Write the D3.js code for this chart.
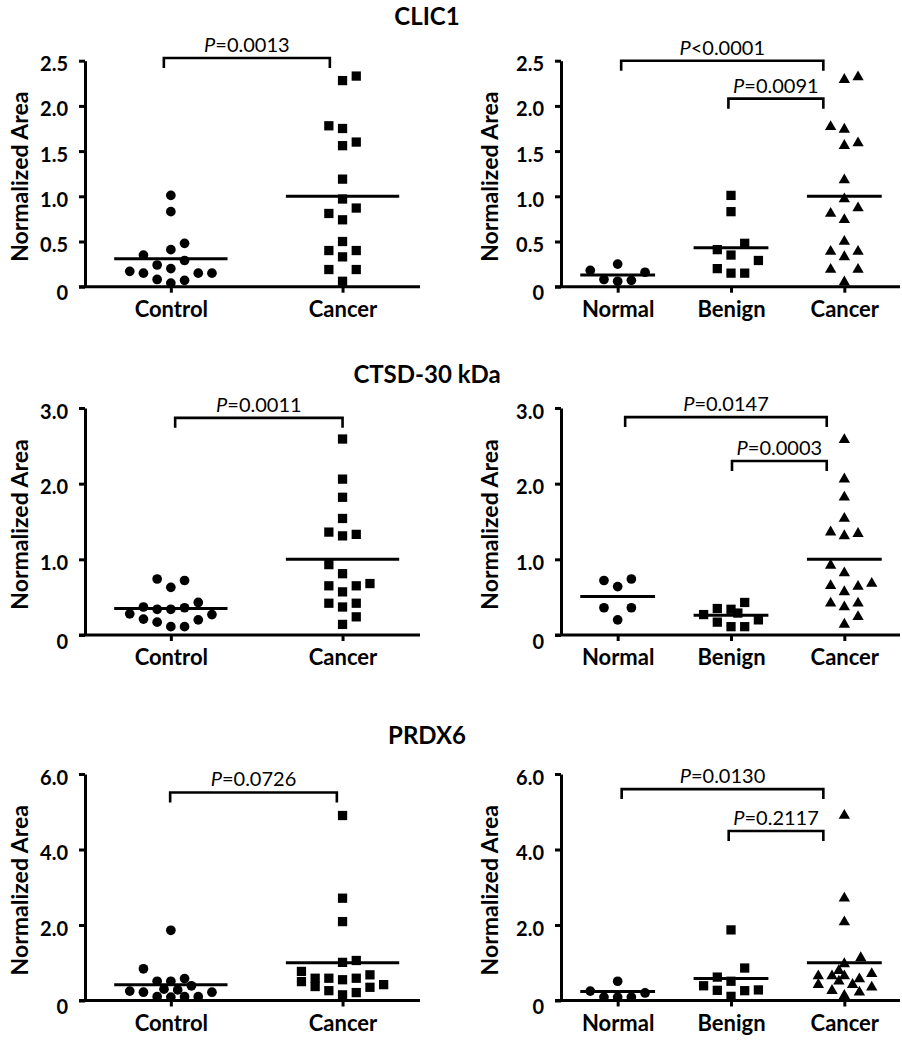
<!DOCTYPE html>
<html>
<head>
<meta charset="utf-8">
<script src="https://cdn.jsdelivr.net/npm/d3@7"></script>
<style>
  html, body { margin: 0; padding: 0; background: #fff; }
  svg { display: block; }
</style>
</head>
<body>
<svg id="chart" width="902" height="1050"></svg>
<script>
// ---------------- DATA ----------------
const titles = ["CLIC1", "CTSD-30 kDa", "PRDX6"];
const twoGroups = ["Control", "Cancer"];
const threeGroups = ["Normal", "Benign", "Cancer"];
const yAxisTitle = "Normalized Area";

const clic1Ticks = [0, 0.5, 1.0, 1.5, 2.0, 2.5];
const clic1TickLabels = ["0", "0.5", "1.0", "1.5", "2.0", "2.5"];
const ctsdTicks = [0, 1, 2, 3];
const ctsdTickLabels = ["0", "1.0", "2.0", "3.0"];
const prdx6Ticks = [0, 2, 4, 6];
const prdx6TickLabels = ["0", "2.0", "4.0", "6.0"];

// CLIC1 - two groups
const clic1ControlVals  = [1.01, 0.83, 0.48, 0.41, 0.35, 0.29, 0.24, 0.20, 0.17, 0.15, 0.15, 0.15, 0.08, 0.04, 0.07];
const clic1ControlSlots = [0, 0, 1, 0, -2, 1, -1, 0, -3, -2, 2, 3, -1, 0, 1];
const clic1CancerVals   = [2.28, 2.33, 1.78, 1.75, 1.56, 1.60, 1.19, 0.97, 0.87, 0.81, 0.74, 0.50, 0.40, 0.40, 0.33, 0.19, 0.19, 0.06];
const clic1CancerSlots  = [0, 1, -1, 0, 0, 1, 0, 0, 1, -1, 0, 0, -1, 1, 0, -1, 1, 0];
const clic1TwoMeans = [0.31, 1.00];
// CLIC1 - three groups
const clic1NormalVals  = [0.18, 0.25, 0.16, 0.08, 0.06, 0.07];
const clic1NormalSlots = [-2, 0, 2, -1, 0, 1];
const clic1BenignVals  = [1.01, 0.83, 0.48, 0.41, 0.35, 0.29, 0.20, 0.15, 0.15];
const clic1BenignSlots = [0, 0, 1, -1, 0, 2, -1, 0, 1];
const clic1Cancer3Vals  = [2.29, 2.32, 1.77, 1.74, 1.56, 1.59, 1.18, 0.97, 0.87, 0.81, 0.74, 0.50, 0.39, 0.39, 0.33, 0.19, 0.19, 0.05];
const clic1Cancer3Slots = [0, 1, -1, 0, 0, 1, 0, 0, 1, -1, 0, 0, -1, 1, 0, -1, 1, 0];
const clic1ThreeMeans = [0.13, 0.43, 1.00];

// CTSD-30 kDa - two groups
const ctsdControlVals  = [0.74, 0.72, 0.63, 0.43, 0.37, 0.34, 0.34, 0.36, 0.28, 0.27, 0.21, 0.20, 0.17, 0.11, 0.11];
const ctsdControlSlots = [-1, 1, 0, 2, -2, -1, 0, 1, -3, 3, -2, 2, -1, 0, 1];
const ctsdCancerVals   = [2.59, 2.06, 1.82, 1.54, 1.36, 1.31, 1.33, 0.93, 0.81, 0.65, 0.57, 0.65, 0.68, 0.42, 0.37, 0.42, 0.24, 0.14];
const ctsdCancerSlots  = [0, 0, 0, 0, -1, 0, 1, -1, 0, -1, 0, 1, 2, -1, 0, 1, 1, 0];
const ctsdTwoMeans = [0.35, 1.00];
// CTSD-30 kDa - three groups
const ctsdNormalVals  = [0.72, 0.74, 0.64, 0.36, 0.36, 0.20];
const ctsdNormalSlots = [-1, 1, 0, -1, 1, 0];
const ctsdBenignVals  = [0.43, 0.35, 0.34, 0.27, 0.29, 0.20, 0.17, 0.11, 0.11];
const ctsdBenignSlots = [1, -1, 0, -2, 0.5, 2, -1, 0, 1];
const ctsdCancer3Vals  = [2.58, 2.06, 1.82, 1.54, 1.36, 1.31, 1.34, 0.92, 0.82, 0.65, 0.57, 0.64, 0.68, 0.42, 0.37, 0.42, 0.24, 0.14];
const ctsdCancer3Slots = [0, 0, 0, 0, -1, 0, 1, -1, 0, -1, 0, 1, 2, -1, 0, 1, 1, 0];
const ctsdThreeMeans = [0.51, 0.26, 1.00];

// PRDX6 - two groups
const prdx6ControlVals  = [1.86, 0.84, 0.51, 0.51, 0.58, 0.30, 0.28, 0.39, 0.25, 0.22, 0.22, 0.10, 0.09, 0.10, 0.10];
const prdx6ControlSlots = [0, -2, -1, 0, 1, -0.5, 0.5, 1.5, -3, -2, 3, -1, 0, 1, 2];
const prdx6CancerVals   = [4.90, 2.71, 2.09, 1.06, 1.01, 0.77, 0.50, 0.59, 0.37, 0.59, 0.26, 0.55, 0.15, 0.59, 0.21, 0.68, 0.35, 0.42];
const prdx6CancerSlots  = [0, 0, 0, 1, 0, -3, -3, -2, -2, -1, -1, 0, 0, 1, 1, 2, 2, 3];
const prdx6TwoMeans = [0.42, 1.00];
// PRDX6 - three groups
const prdx6NormalVals  = [0.51, 0.25, 0.20, 0.09, 0.09, 0.09];
const prdx6NormalSlots = [0, -2, 2, -1, 0, 1];
const prdx6BenignVals  = [1.87, 0.86, 0.62, 0.51, 0.39, 0.27, 0.26, 0.28, 0.11];
const prdx6BenignSlots = [0, 1, -1, 0, -2, -1, 1, 2, 0];
const prdx6Cancer3Vals  = [4.90, 2.71, 2.08, 1.13, 0.97, 0.79, 0.65, 0.65, 0.65, 0.57, 0.71, 0.51, 0.42, 0.42, 0.35, 0.26, 0.22, 0.13];
const prdx6Cancer3Slots = [0, 0, 0, 1.2, 0, -0.4, -1.9, -0.9, 0, 1.1, 2, -0.4, -1.9, 0.6, 2, -0.9, 1.1, 0];
const prdx6ThreeMeans = [0.24, 0.58, 1.00];

// significance annotations: [fromGroup, toGroup, level (data units), operator, value]
const clic1TwoP   = [["Control", "Cancer", 2.53, "=", "0.0013"]];
const clic1ThreeP = [["Normal", "Cancer", 2.50, "<", "0.0001"], ["Benign", "Cancer", 2.08, "=", "0.0091"]];
const ctsdTwoP    = [["Control", "Cancer", 2.87, "=", "0.0011"]];
const ctsdThreeP  = [["Normal", "Cancer", 2.88, "=", "0.0147"], ["Benign", "Cancer", 2.30, "=", "0.0003"]];
const prdx6TwoP   = [["Control", "Cancer", 5.51, "=", "0.0726"]];
const prdx6ThreeP = [["Normal", "Cancer", 5.60, "=", "0.0130"], ["Benign", "Cancer", 4.49, "=", "0.2117"]];

// ---------------- LAYOUT ----------------
const FONT = "Lato, 'Open Sans', 'DejaVu Sans', sans-serif";
const rowsLayout = [
  {zero: 286.7, top: 60.7, titleY: 25},
  {zero: 635,   top: 408,  titleY: 383},
  {zero: 1000.5, top: 774, titleY: 744}
];
const colsLayout = [
  {axisX: 85,  rangeEnd: 428.4, lineEnd: 420, titleX: 28,  brInset: [[-7, -12.7], [4.3, 0], [-0.7, -5.7]]},
  {axisX: 561, rangeEnd: 901,   lineEnd: 900, titleX: 498, brInset: [[3.5, -21], [7.5, -17.6], [4, -21]]}
];
const innerInset = [[-2.6, -21], [1, -17.6], [-2.3, -21]];
const SLOT = 13.7;

const panels = [
  {row: 0, col: 0, cats: twoGroups, max: 2.5, ticks: clic1Ticks, tickLabels: clic1TickLabels,
   groups: [[clic1ControlVals, clic1ControlSlots, "circle"], [clic1CancerVals, clic1CancerSlots, "square"]],
   means: clic1TwoMeans, pvals: clic1TwoP},
  {row: 0, col: 1, cats: threeGroups, max: 2.5, ticks: clic1Ticks, tickLabels: clic1TickLabels,
   groups: [[clic1NormalVals, clic1NormalSlots, "circle"], [clic1BenignVals, clic1BenignSlots, "square"], [clic1Cancer3Vals, clic1Cancer3Slots, "triangle"]],
   means: clic1ThreeMeans, pvals: clic1ThreeP},
  {row: 1, col: 0, cats: twoGroups, max: 3, ticks: ctsdTicks, tickLabels: ctsdTickLabels,
   groups: [[ctsdControlVals, ctsdControlSlots, "circle"], [ctsdCancerVals, ctsdCancerSlots, "square"]],
   means: ctsdTwoMeans, pvals: ctsdTwoP},
  {row: 1, col: 1, cats: threeGroups, max: 3, ticks: ctsdTicks, tickLabels: ctsdTickLabels,
   groups: [[ctsdNormalVals, ctsdNormalSlots, "circle"], [ctsdBenignVals, ctsdBenignSlots, "square"], [ctsdCancer3Vals, ctsdCancer3Slots, "triangle"]],
   means: ctsdThreeMeans, pvals: ctsdThreeP},
  {row: 2, col: 0, cats: twoGroups, max: 6, ticks: prdx6Ticks, tickLabels: prdx6TickLabels,
   groups: [[prdx6ControlVals, prdx6ControlSlots, "circle"], [prdx6CancerVals, prdx6CancerSlots, "square"]],
   means: prdx6TwoMeans, pvals: prdx6TwoP},
  {row: 2, col: 1, cats: threeGroups, max: 6, ticks: prdx6Ticks, tickLabels: prdx6TickLabels,
   groups: [[prdx6NormalVals, prdx6NormalSlots, "circle"], [prdx6BenignVals, prdx6BenignSlots, "square"], [prdx6Cancer3Vals, prdx6Cancer3Slots, "triangle"]],
   means: prdx6ThreeMeans, pvals: prdx6ThreeP}
];

const svg = d3.select("#chart");

// titles
titles.forEach((t, i) => {
  svg.append("text")
    .attr("x", 427).attr("y", rowsLayout[i].titleY)
    .attr("text-anchor", "middle")
    .style("font-family", FONT).style("font-weight", 700).style("font-size", "24px")
    .text(t);
});

const symbols = {
  circle: d3.symbol().type(d3.symbolCircle).size(74),
  square: d3.symbol().type(d3.symbolSquare).size(86),
  triangle: d3.symbol().type(d3.symbolTriangle).size(56)
};

panels.forEach(p => {
  const R = rowsLayout[p.row], C = colsLayout[p.col];
  const x = d3.scalePoint().domain(p.cats).range([C.axisX, C.rangeEnd]).padding(0.5);
  const y = d3.scaleLinear().domain([0, p.max]).range([R.zero, R.top]);
  const g = svg.append("g");

  // y axis
  const yAxis = d3.axisLeft(y).tickValues(p.ticks).tickSize(6).tickSizeOuter(0)
    .tickFormat((d, i) => p.tickLabels[i]);
  const ya = g.append("g").attr("transform", `translate(${C.axisX},0)`).call(yAxis);
  ya.select(".domain").attr("stroke", "#000").attr("stroke-width", 3);
  ya.selectAll(".tick line").attr("stroke", "#000").attr("stroke-width", 3);
  ya.selectAll(".tick text")
    .attr("x", -17)
    .attr("dy", (d) => d === 0 ? "0.65em" : "0.5em")
    .style("font-family", FONT).style("font-weight", 700).style("font-size", "20px").attr("fill", "#000");

  // x axis
  const xAxis = d3.axisBottom(x).tickSize(6).tickSizeOuter(0);
  const xa = g.append("g").attr("transform", `translate(0,${R.zero})`).call(xAxis);
  xa.select(".domain").remove();
  xa.append("line").attr("x1", C.axisX - 6).attr("x2", C.lineEnd).attr("y1", 0).attr("y2", 0)
    .attr("stroke", "#000").attr("stroke-width", 3);
  xa.selectAll(".tick line").attr("stroke", "#000").attr("stroke-width", 3);
  xa.selectAll(".tick text")
    .attr("y", 30).attr("dy", 0)
    .style("font-family", FONT).style("font-weight", 700).style("font-size", "22px").attr("fill", "#000");

  // y axis title
  g.append("text")
    .attr("transform", `translate(${C.titleX},${(R.zero + R.top) / 2 + 3}) rotate(-90)`)
    .attr("text-anchor", "middle")
    .style("font-family", FONT).style("font-weight", 700).style("font-size", "23px")
    .text(yAxisTitle);

  // points
  p.groups.forEach((grp, gi) => {
    const [vals, slots, shape] = grp;
    const cat = p.cats[gi];
    g.selectAll(null).data(vals.map((v, i) => ({v, s: slots[i]}))).enter()
      .append("path")
      .attr("d", symbols[shape])
      .attr("transform", d => `translate(${x(cat) + d.s * SLOT},${y(d.v)})`)
      .attr("fill", "#000");
  });

  // mean lines
  const halfW = x.step() * 0.33;
  g.selectAll(null).data(p.means.map((m, i) => ({m, cat: p.cats[i]}))).enter()
    .append("line")
    .attr("x1", d => x(d.cat) - halfW).attr("x2", d => x(d.cat) + halfW)
    .attr("y1", d => y(d.m)).attr("y2", d => y(d.m))
    .attr("stroke", "#000").attr("stroke-width", 3);

  // significance brackets
  p.pvals.forEach((pv, k) => {
    const [from, to, level, op, val] = pv;
    const ins = k === 0 ? C.brInset[p.row] : innerInset[p.row];
    const x1 = x(from) + ins[0], x2 = x(to) + ins[1];
    const yy = y(level);
    g.append("path")
      .attr("d", `M${x1},${yy + 10}V${yy}H${x2}V${yy + 10}`)
      .attr("fill", "none").attr("stroke", "#000").attr("stroke-width", 2.6);
    const t = g.append("text")
      .attr("x", (x1 + x2) / 2).attr("y", yy - 6)
      .attr("text-anchor", "middle")
      .style("font-family", FONT).style("font-size", "20px");
    t.append("tspan").style("font-style", "italic").text("P");
    t.append("tspan").text(op + val);
  });
});
</script>
</body>
</html>
